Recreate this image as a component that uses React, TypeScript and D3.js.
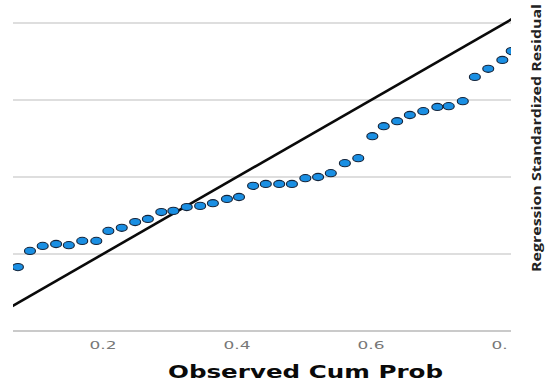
import React from "react";
import * as d3 from "d3";

const observed: number[] = [
  0.073, 0.091, 0.110, 0.130, 0.149, 0.169, 0.190, 0.208, 0.228, 0.248,
  0.267, 0.287, 0.305, 0.325, 0.345, 0.364, 0.385, 0.403, 0.424, 0.443,
  0.463, 0.482, 0.502, 0.521, 0.540, 0.561, 0.581, 0.602, 0.619, 0.639,
  0.658, 0.678, 0.699, 0.716, 0.737, 0.755, 0.775, 0.796, 0.810,
];
const expected: number[] = [
  0.166, 0.208, 0.221, 0.226, 0.223, 0.234, 0.234, 0.260, 0.268, 0.283,
  0.291, 0.309, 0.312, 0.322, 0.325, 0.332, 0.343, 0.348, 0.377, 0.382,
  0.382, 0.382, 0.397, 0.400, 0.410, 0.436, 0.449, 0.506, 0.532, 0.545,
  0.561, 0.571, 0.582, 0.584, 0.597, 0.660, 0.681, 0.704, 0.727,
];
const xTicks: number[] = [0.2, 0.4, 0.6, 0.8];
const gridY: number[] = [0.2, 0.4, 0.6, 0.8];
const refLine: number[] = [0, 1];
const xTitle = "Observed Cum Prob";
const yTitle = "Regression Standardized Residual";

const W = 549;
const H = 386;
const plotLeft = 13;
const plotRight = 511;
const plotTop = 0;
const plotBottom = 331;

export default function App() {
  const x = d3.scaleLinear().domain([0, 1]).range([-31, 639]);
  const y = d3.scaleLinear().domain([0, 1]).range([331, -54]);
  const line = d3
    .line<number>()
    .x((d) => x(d))
    .y((d) => y(d));

  return (
    <svg
      width={W}
      height={H}
      style={{ position: "absolute", left: 0, top: 0, background: "#fff" }}
    >
      <defs>
        <clipPath id="plotClip">
          <rect x={plotLeft} y={plotTop} width={plotRight - plotLeft} height={plotBottom - plotTop + 2} />
        </clipPath>
        <clipPath id="tickClip">
          <rect x={0} y={plotBottom} width={508} height={30} />
        </clipPath>
      </defs>
      <rect x={0} y={0} width={W} height={H} fill="#fff" />
      {gridY.map((g) => (
        <line
          key={g}
          x1={plotLeft}
          x2={plotRight}
          y1={y(g)}
          y2={y(g)}
          stroke="#dedede"
          strokeWidth={2}
        />
      ))}
      <line
        x1={plotLeft}
        x2={plotRight}
        y1={y(0)}
        y2={y(0)}
        stroke="#b8b8b8"
        strokeWidth={1.6}
      />
      <g clipPath="url(#plotClip)">
        <path d={line(refLine) || ""} stroke="#0a0a0a" strokeWidth={2.6} fill="none" />
        {observed.map((o, i) => (
          <ellipse
            key={i}
            cx={x(o)}
            cy={y(expected[i])}
            rx={5.5}
            ry={3.6}
            fill="#1a8fe3"
            stroke="#14243a"
            strokeWidth={1.1}
          />
        ))}
      </g>
      <g clipPath="url(#tickClip)">
        {xTicks.map((t) => (
          <text
            key={t}
            x={x(t)}
            y={349}
            textAnchor="middle"
            fontFamily="DejaVu Sans, sans-serif"
            fontSize={11}
            fill="#777"
            textLength={27}
            lengthAdjust="spacingAndGlyphs"
          >
            {t.toFixed(1)}
          </text>
        ))}
      </g>
      <text
        x={305.5}
        y={378}
        textAnchor="middle"
        fontFamily="DejaVu Sans, sans-serif"
        fontWeight="bold"
        fontSize={17}
        fill="#0a0a0a"
        textLength={275}
        lengthAdjust="spacingAndGlyphs"
      >
        {xTitle}
      </text>
      <text
        transform="translate(541,138) rotate(-90)"
        textAnchor="middle"
        fontFamily="Open Sans, sans-serif"
        fontWeight="bold"
        fontSize={13}
        fill="#222"
        textLength={268}
        lengthAdjust="spacingAndGlyphs"
      >
        {yTitle}
      </text>
    </svg>
  );
}
